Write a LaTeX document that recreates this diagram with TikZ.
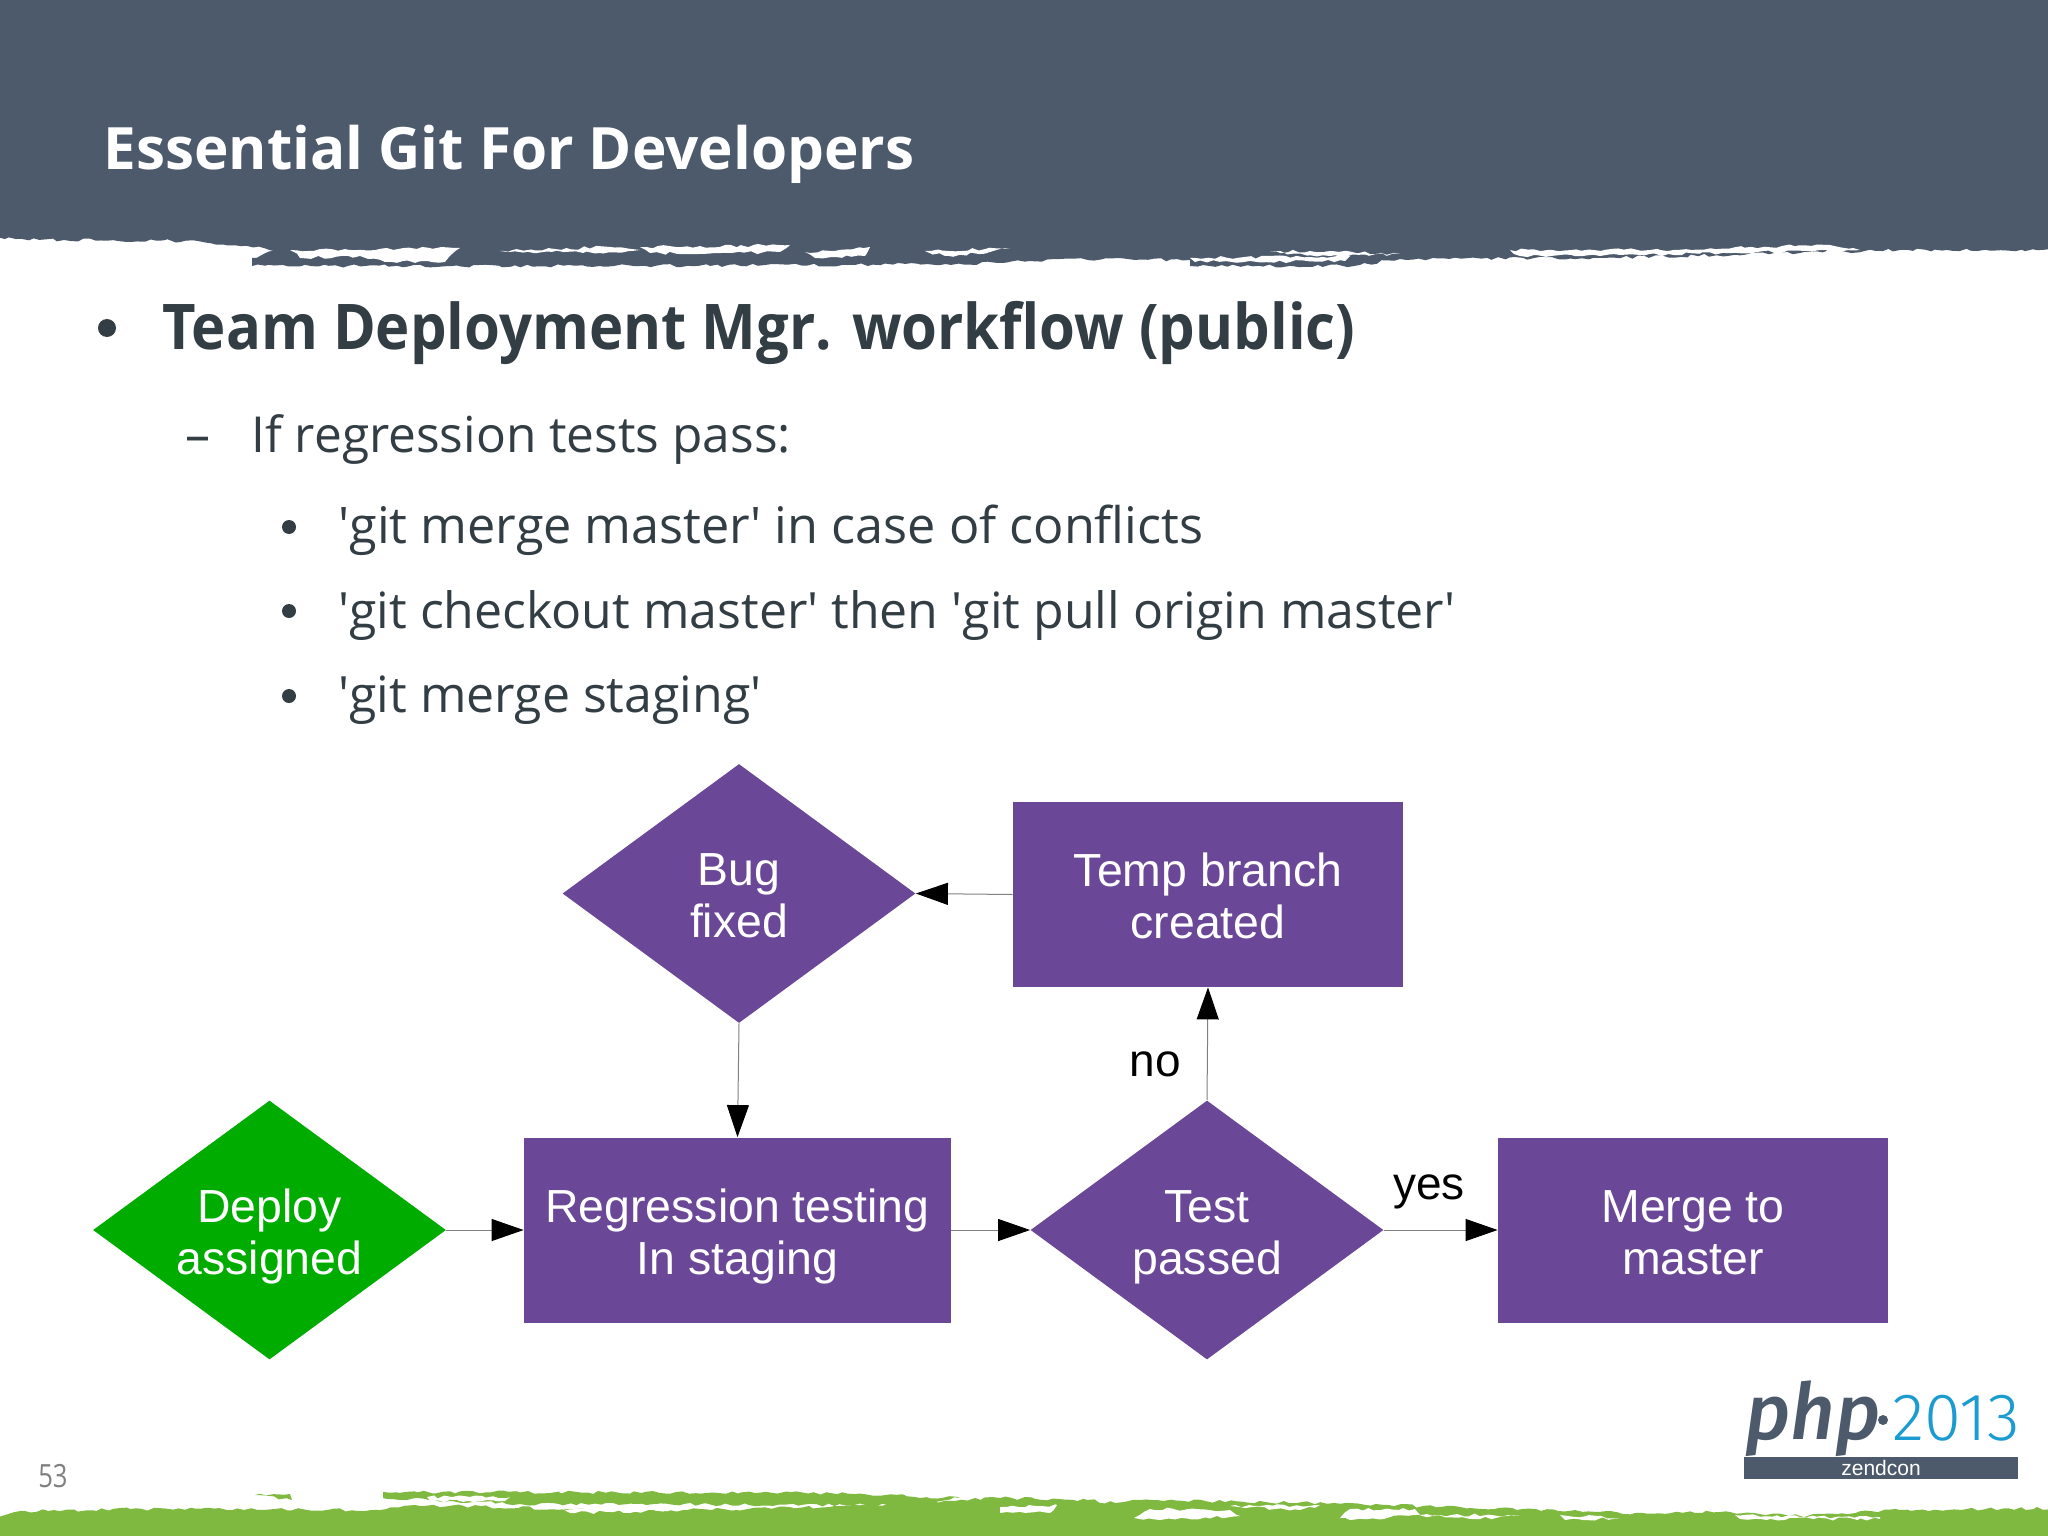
\documentclass[tikz,border=0pt]{standalone}
\usepackage{fontspec}
\setmainfont{Open Sans}
\newfontfamily\flowfont{Liberation Sans}
\newfontfamily\logofont{Fira Sans Medium}
\newfontfamily\yearfont{Fira Sans Light}
\usetikzlibrary{shapes.geometric}
\usetikzlibrary{arrows.meta}
\usetikzlibrary{decorations.pathmorphing}
\definecolor{slategrey}{HTML}{4D5A6B}
\definecolor{leafgreen}{HTML}{7FB93F}
\definecolor{flowpurple}{HTML}{6B4897}
\definecolor{startgreen}{HTML}{00AC00}
\definecolor{bodyink}{HTML}{323D44}
\definecolor{logoblue}{HTML}{1B9BD0}
\newcommand{\sq}{\textquotesingle}
\newcommand{\flowstrut}{\rule[-6pt]{0pt}{56pt}}

\begin{document}
\begin{tikzpicture}[x=0.5pt, y=-0.5pt, auto]
    \tikzstyle{box} = [rectangle, fill=flowpurple, text=white, font=\flowfont\fontsize{23.2}{26}\selectfont, text centered, align=center, minimum width=195pt, minimum height=92.5pt, inner sep=0pt, execute at begin node=\flowstrut]
    \tikzstyle{decision} = [box, diamond, shape aspect=1.36, minimum width=176.5pt, minimum height=129.5pt]
    \tikzstyle{link} = [draw=gray, line width=0.5pt, -{Triangle[black, length=16pt, width=11pt]}]
    \tikzstyle{linktext} = [font=\flowfont\fontsize{23}{26}\selectfont, text=black, inner sep=0pt]
    \tikzstyle{rough} = [decorate, decoration={random steps, segment length=3pt, amplitude=0.8pt}]
    \tikzstyle{slidetext} = [anchor=base west, inner sep=0pt, text=bodyink]
    \pgfmathsetseed{53}

    \useasboundingbox (0,0) rectangle (2048,1535);
    \fill[white] (0,0) rectangle (2048,1535);

    % header band
    \fill[slategrey, rough] (-20,-20) -- (2068,-20) -- (2068,250) -- (1900,250) -- (1800,253) -- (1600,258) -- (1400,259) -- (1354,266) -- (1190,266) -- (1190,260) -- (1060,259) -- (1000,263) -- (855,265) -- (600,266) -- (252,266) -- (252,258) -- (276,250) -- (198,241) -- (64,240) -- (-20,238) -- cycle;
    \fill[white, rough] (290,250) -- (460,248) -- (445,262) -- (385,262) -- (360,256) -- (300,258) -- cycle;
    \fill[white, rough] (500,251) -- (610,247) -- (640,250) -- (600,253) -- cycle;
    \fill[white, rough] (640,247) -- (790,245) -- (780,252) -- (700,254) -- (650,253) -- cycle;
    \fill[white, rough] (805,252) -- (870,247) -- (865,256) -- (815,258) -- cycle;
    \fill[white, rough] (925,251) -- (1010,248) -- (990,252) -- (945,256) -- cycle;
    \fill[white, rough] (1190,258) -- (1350,256) -- (1345,261) -- (1195,262) -- cycle;
    \fill[white, rough] (1270,252) -- (1310,251) -- (1400,254) -- (1330,256) -- cycle;
    \fill[white, rough] (1510,250) -- (1650,250) -- (1830,245) -- (1860,250) -- (1600,256) -- (1520,256) -- cycle;

    % footer band
    \fill[leafgreen, rough] (-20,1555) -- (-20,1519) -- (25,1511) -- (130,1509) -- (380,1510) -- (415,1505) -- (640,1511) -- (830,1507) -- (1000,1498) -- (1087,1500) -- (1115,1503) -- (1140,1500) -- (1334,1503) -- (1470,1508) -- (1575,1510) -- (1635,1513) -- (1730,1512) -- (1800,1516) -- (1900,1510) -- (2068,1508) -- (2068,1555) -- cycle;
    \fill[leafgreen, rough] (255,1495) -- (290,1494) -- (292,1500) -- cycle;
    \fill[leafgreen, rough] (383,1492) -- (830,1493) -- (960,1498) -- (900,1505) -- (520,1504) -- (383,1498) -- cycle;
    \fill[white, rough] (427,1497) -- (510,1497) -- (505,1501) -- (430,1501) -- cycle;
    \fill[white, rough] (561,1509) -- (663,1504) -- (690,1510) -- (570,1513) -- cycle;
    \fill[white, rough] (1000,1507) -- (1057,1505) -- (1050,1513) -- (1000,1513) -- cycle;
    \fill[white, rough] (1134,1518) -- (1150,1509) -- (1230,1510) -- (1240,1516) -- (1160,1520) -- cycle;
    \fill[white, rough] (1230,1506) -- (1320,1505) -- (1300,1510) -- cycle;
    \fill[white, rough] (1340,1518) -- (1350,1509) -- (1415,1509) -- (1420,1515) -- (1350,1520) -- cycle;
    \fill[white, rough] (1415,1515) -- (1520,1515) -- (1480,1519) -- cycle;
    \fill[white, rough] (1560,1515) -- (1620,1518) -- (1565,1520) -- cycle;
    \fill[white, rough] (1735,1515) -- (1800,1517) -- (1880,1517) -- (1880,1519) -- (1740,1519) -- cycle;

    % slide text
    \node [slidetext, text=white, font=\fontsize{29.2}{36}\bfseries\selectfont] (title) at (103,170) {Essential Git For Developers};
    \node [slidetext, xscale=0.92, font=\fontsize{31.5}{40}\bfseries\selectfont] (topic) at (162,350) {Team Deployment Mgr. workflow (public)};
    \node [slidetext, font=\fontsize{24.8}{32}\selectfont] (pass) at (251,452) {If regression tests pass:};
    \node [slidetext, font=\fontsize{25.2}{30}\selectfont] (merge) at (338,543) {\sq git merge master\sq{} in case of conflicts};
    \node [slidetext, font=\fontsize{25}{30}\selectfont] (pull) at (338,628) {\sq git checkout master\sq{} then \sq git pull origin master\sq};
    \node [slidetext, font=\fontsize{25}{30}\selectfont] (staging) at (338,712) {\sq git merge staging\sq};
    \node [slidetext, font=\fontsize{25}{32}\selectfont] (dash) at (185,452) {–};
    \node [circle, fill=bodyink, minimum size=9pt, inner sep=0pt] (dot1) at (107,328) {};
    \node [circle, fill=bodyink, minimum size=7pt, inner sep=0pt] (dot2) at (289,527) {};
    \node [circle, fill=bodyink, minimum size=7pt, inner sep=0pt] (dot3) at (289,611) {};
    \node [circle, fill=bodyink, minimum size=7pt, inner sep=0pt] (dot4) at (289,696) {};
    \node [slidetext, text=gray, xscale=0.8, font=\fontsize{16}{20}\selectfont] (page) at (38,1487) {53};

    % flow chart
    \node [decision, fill=startgreen] (deploy) at (269.5,1230) {Deploy\\assigned};
    \node [box, right of=deploy, node distance=234pt, minimum width=213.5pt] (regression) {Regression testing\\In staging};
    \node [decision, right of=regression, node distance=234.75pt] (test) {Test\\passed};
    \node [box, right of=test, node distance=243pt] (master) {Merge to\\master};
    \node [box, above of=test, node distance=167.75pt, xshift=0.5pt] (temp) {Temp branch\\created};
    \node [decision, left of=temp, node distance=234.5pt, yshift=0.5pt] (bug) {Bug\\fixed};

    \draw [link] (deploy.east) -- (regression.west);
    \draw [link] (regression.east) -- (test.west);
    \draw [link] (test.east) -- (master.west);
    \draw [link] (test.north) -- (temp.south);
    \draw [link] (temp.west) -- (bug.east);
    \draw [link] (bug.south) -- (regression.north);
    \node [linktext] (no) at (1155,1064) {no};
    \node [linktext] (yes) at (1429,1192) {yes};

    % logo
    \fill[slategrey] (1744,1457) rectangle (2018,1479);
    \node [anchor=base west, inner sep=0pt, text=slategrey, font=\logofont\fontsize{39}{39}\itshape\selectfont] (php) at (1745,1439) {php};
    \fill[slategrey] (1883,1420) circle (2.5pt);
    \node [anchor=base west, inner sep=0pt, text=logoblue, font=\yearfont\fontsize{33.5}{33}\selectfont] (year) at (1892,1440) {2013};
    \node [inner sep=0pt, text=white, font=\flowfont\fontsize{10.5}{10}\selectfont] (zend) at (1881,1468) {zendcon};
  \end{tikzpicture}
\end{document}
